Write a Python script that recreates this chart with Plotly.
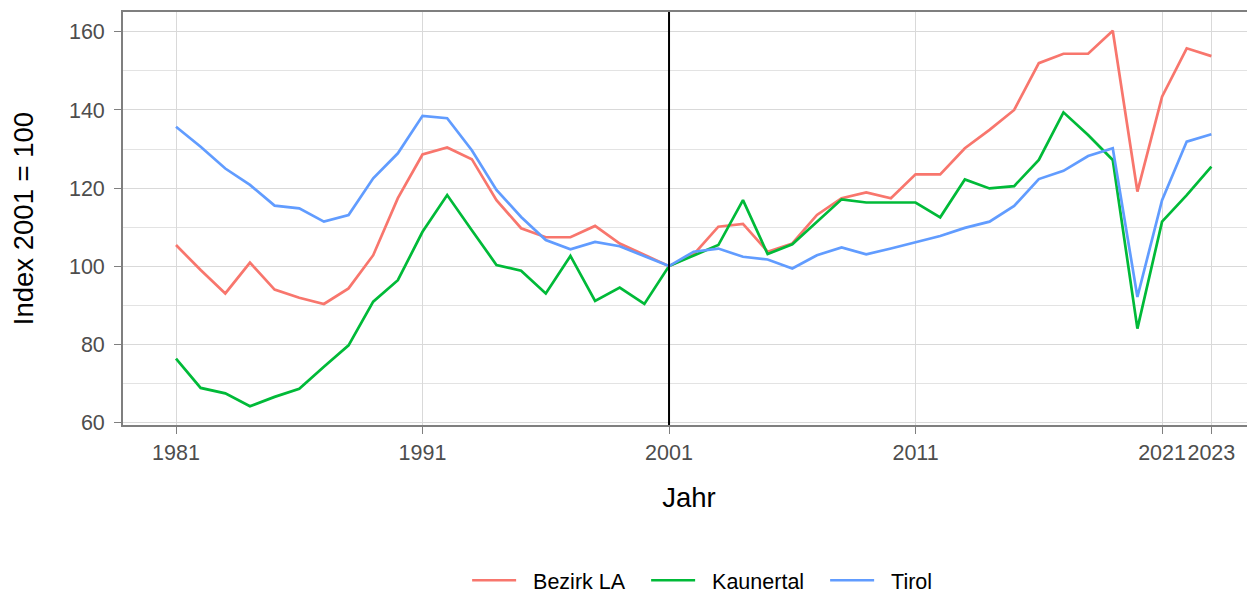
import plotly.graph_objects as go

years = list(range(1981, 2024))

bezirk_la = [105.4, 99.0, 93.0, 100.9, 94.0, 91.9, 90.3, 94.3, 102.8, 117.4,
             128.6, 130.4, 127.4, 116.9, 109.7, 107.4, 107.4, 110.3, 105.8, 102.8,
             100.0, 103.0, 110.1, 110.8, 103.7, 105.8, 113.1, 117.4, 118.9, 117.4,
             123.5, 123.5, 130.2, 134.9, 140.0, 152.0, 154.4, 154.4, 160.3, 119.1,
             143.4, 155.8, 153.8]

kaunertal = [76.3, 68.8, 67.4, 64.1, 66.5, 68.6, 74.2, 79.7, 90.9, 96.4,
             108.8, 118.2, 109.2, 100.3, 98.8, 93.0, 102.6, 91.1, 94.5, 90.3,
             100.0, 102.8, 105.4, 116.9, 103.1, 105.6, 111.4, 117.1, 116.3, 116.3,
             116.3, 112.5, 122.2, 119.9, 120.5, 127.2, 139.4, 133.6, 127.2, 84.0,
             111.4, 118.2, 125.5]

tirol = [135.7, 130.6, 125.0, 120.8, 115.5, 114.8, 111.4, 113.1, 122.5, 128.9,
         138.5, 137.9, 129.7, 119.5, 112.6, 106.7, 104.3, 106.2, 105.1, 102.6,
         100.0, 103.7, 104.5, 102.4, 101.7, 99.4, 102.8, 104.8, 103.0, 104.5,
         106.1, 107.7, 109.8, 111.4, 115.4, 122.3, 124.4, 128.2, 130.2, 92.1,
         116.9, 131.9, 133.8]

series_names = ["Bezirk LA", "Kaunertal", "Tirol"]
series_values = [bezirk_la, kaunertal, tirol]
colors = ["#F8766D", "#00BA38", "#619CFF"]

x_ticks = [1981, 1991, 2001, 2011, 2021, 2023]
y_ticks = [60, 80, 100, 120, 140, 160]
ref_year = 2001

NBSP = "\u00a0"

fig = go.Figure()
for name, vals, col in zip(series_names, series_values, colors):
    fig.add_trace(go.Scatter(x=years, y=vals, mode="lines", name=NBSP * 2 + name,
                             line=dict(color=col, width=2.7)))

fig.add_shape(type="line", x0=ref_year, x1=ref_year, xref="x", yref="paper",
              y0=0, y1=1, line=dict(color="black", width=2))

font_family = "Liberation Sans, Arial, sans-serif"

# page body has an 8px default margin, so the figure is sized to fill the rest
fig.update_layout(
    width=1247, height=587,
    margin=dict(l=115, r=0, t=4, b=170, autoexpand=False),
    paper_bgcolor="white", plot_bgcolor="white",
    font=dict(family=font_family, color="#4d4d4d", size=21),
    showlegend=True,
    legend=dict(orientation="h", x=0.304, xanchor="left", y=-0.376, yanchor="middle",
                font=dict(size=21.5, color="black"), itemwidth=44,
                entrywidth=120, entrywidthmode="pixels",
                tracegroupgap=0, borderwidth=0),
)

fig.update_xaxes(
    range=[1978.85, 2024.77],
    tickvals=x_ticks, ticktext=[str(v) for v in x_ticks], tickangle=0,
    showgrid=True, gridcolor="#d9d9d9", gridwidth=1,
    showline=True, linecolor="#7f7f7f", linewidth=1.8, mirror=True,
    ticks="outside", ticklen=7, tickcolor="#7f7f7f", tickwidth=1.2,
    tickfont=dict(size=21.5, color="#4d4d4d"),
    title=dict(text="Jahr", font=dict(size=27.5, color="black"), standoff=24),
    zeroline=False, automargin=False,
)

fig.update_yaxes(
    range=[59.3, 165.1],
    tickvals=y_ticks,
    showgrid=True, gridcolor="#d9d9d9", gridwidth=1,
    minor=dict(dtick=10, tick0=60, showgrid=True, gridcolor="#e3e3e3", gridwidth=1),
    showline=True, linecolor="#7f7f7f", linewidth=1.8, mirror=False,
    ticks="outside", ticklen=7, tickcolor="#7f7f7f", tickwidth=1.2,
    ticklabelstandoff=5,
    tickfont=dict(size=21.5, color="#4d4d4d"),
    title=dict(text="Index 2001 = 100", font=dict(size=27.5, color="black"), standoff=31),
    zeroline=False, automargin=False,
)

fig.write_html("out.html")
